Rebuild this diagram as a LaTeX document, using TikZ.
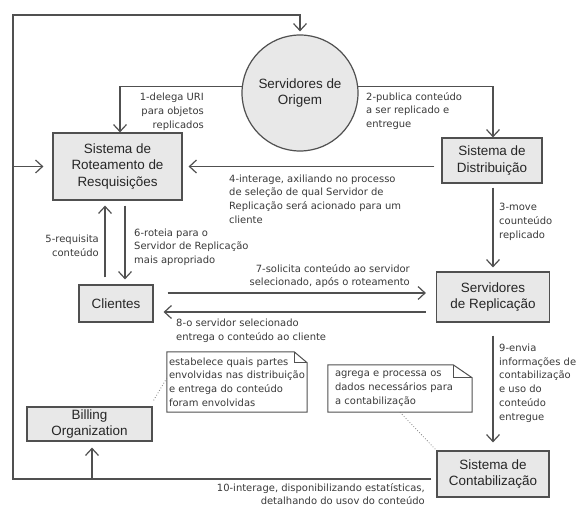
\documentclass[tikz,border=0pt]{standalone}
\usepackage{fontspec}
\setmainfont{Liberation Sans}
\newfontfamily\lblfont{DejaVu Sans}
\usetikzlibrary{arrows.meta}
\definecolor{linegray}{HTML}{505050}
\definecolor{boxfill}{HTML}{E8E8E8}
\definecolor{txtgray}{HTML}{3A3A3A}

% note outline with a folded corner: node, fold width, fold height
\newcommand{\dogear}[3]{%
  \draw[noteline] (#1.south west) -- (#1.north west) -- ([xshift=-#2]#1.north east)
    -- ([yshift=-#3]#1.north east) -- (#1.south east) -- cycle;
  \draw[noteline] ([xshift=-#2]#1.north east) |- ([yshift=-#3]#1.north east);}

\begin{document}
\begin{tikzpicture}[x=1bp,y=-1bp,
    box/.style={draw=linegray,line width=1.2bp,fill=boxfill,align=center,inner sep=0pt,
      font=\fontsize{13.5}{16.5}\selectfont,text=black!85},
    flow/.style={draw=linegray,line width=1.2bp,-{Straight Barb[length=7bp,width=13bp]}},
    lbl/.style={font=\lblfont\fontsize{10}{13.8}\selectfont,text=txtgray,inner sep=0pt},
    notebox/.style={lbl,fill=white,align=left,inner ysep=0pt,
      execute at begin node={\hyphenpenalty=10000\exhyphenpenalty=10000}},
    noteline/.style={draw=linegray,line width=1bp},
    hint/.style={draw=gray,line width=0.8bp,dotted}]
    \useasboundingbox[fill=white] (0,0) rectangle (581,507);

    % Draw the boxes
    \node[box,circle,minimum size=116bp] (orig) at (300,93) {Servidores de\\Origem};
    \node[box,minimum width=129bp,minimum height=67bp] (rot) at (117.5,166.5) {Sistema de\\Roteamento de\\Resquisições};
    \node[box,minimum width=100bp,minimum height=45bp] (dist) at (492,160.5) {Sistema de\\Distribuição};
    \node[box,minimum width=113bp,minimum height=50bp] (rep) at (493,297) {Servidores\\de Replicação};
    \node[box,minimum width=74bp,minimum height=37bp] (cli) at (116,303.5) {Clientes};
    \node[box,minimum width=125bp,minimum height=34bp] (bill) at (89.5,424) {Billing\\Organization};
    \node[box,minimum width=112bp,minimum height=46bp] (cont) at (493,474) {Sistema de\\Contabilização};

    % Draw the notes
    \node[notebox,text width=136bp,inner xsep=2bp,minimum height=60bp] (estab) at (237,382)
      {estabelece quais partes\\envolvidas nas distribuição\\e entrega do conteúdo\\foram envolvidas};
    \dogear{estab}{13bp}{11bp}
    \node[notebox,text width=130bp,inner xsep=7bp,minimum height=47bp] (agrega) at (400,388.5)
      {agrega e processa os\\dados necessários para\\a contabilização};
    \dogear{agrega}{19bp}{13bp}
    \draw[hint] ([yshift=4bp]estab.west) -- ([xshift=1bp,yshift=6bp]bill.north east);
    \draw[hint] (agrega.south) -- (cont.north west);

    % Draw the corners of the outer loop
    \coordinate (loopTL) at (13,15);
    \coordinate (loopBL) at (13,479);
    \coordinate (billIn) at ([xshift=2.5bp]bill.south);

    % Draw the connectors
    \draw[flow] (orig.174) -| ([xshift=2.5bp]rot.north);
    \draw[flow] (orig.6) -| ([xshift=1bp]dist.north);
    \draw[flow,shorten <=4bp,shorten >=4bp] ([xshift=1bp]dist.south) -- (rep.north);
    \draw[flow,shorten <=7bp,shorten >=6bp] ([yshift=-6bp]dist.west) -- ([yshift=-6bp]dist.west -| rot.east);
    \draw[flow,shorten <=7bp,shorten >=5bp] ([xshift=-11bp]cli.north) -- ([xshift=-11bp]cli.north |- rot.south);
    \draw[flow,shorten <=5bp,shorten >=5bp] ([xshift=9bp]cli.north |- rot.south) -- ([xshift=9bp]cli.north);
    \draw[flow,shorten <=14bp,shorten >=10bp] ([yshift=10.5bp]cli.east) -- ([yshift=10.5bp]cli.east -| rep.west);
    \draw[flow,shorten <=10bp,shorten >=10bp] ([yshift=-8.5bp]cli.east -| rep.west) -- ([yshift=-8.5bp]cli.east);
    \draw[flow,shorten <=13bp,shorten >=8bp] (rep.south) -- (cont.north);
    \draw[flow,shorten <=5bp,shorten >=3bp] ([yshift=-5bp]cont.west) -| (loopTL) -| (orig.north);
    \draw[flow,shorten >=9bp] (loopTL |- rot.west) -- (rot.west);
    \draw[flow,shorten >=6bp] (loopBL -| billIn) -- (billIn);

    % Draw the labels
    \node[lbl,align=right,anchor=east] (l1) at (204,112) {1-delega URI\\para objetos\\replicados};
    \node[lbl,align=left,anchor=west] (l2) at (366,111) {2-publica conteúdo\\a ser replicado e\\entregue};
    \node[lbl,align=left,anchor=west] (l3) at (499,222) {3-move\\counteúdo\\replicado};
    \node[lbl,align=left,anchor=west] (l4) at (229,199) {4-interage, axiliando no processo\\de seleção de qual Servidor de\\Replicação será acionado para um\\cliente};
    \node[lbl,align=right,anchor=east] (l5) at (99,246) {5-requisita\\conteúdo};
    \node[lbl,align=left,anchor=west] (l6) at (134,247) {6-roteia para o\\Servidor de Replicação\\mais apropriado};
    \node[lbl,align=right,anchor=east] (l7) at (410,276) {7-solicita conteúdo ao servidor\\selecionado, após o roteamento};
    \node[lbl,align=left,anchor=west] (l8) at (176,331) {8-o servidor selecionado\\entrega o conteúdo ao cliente};
    \node[lbl,align=left,anchor=west] (l9) at (499,383) {9-envia\\informações de\\contabilização\\e uso do\\conteúdo\\entregue};
    \node[lbl,align=right,anchor=east] (l10) at (425,494) {10-interage, disponibilizando estatísticas,\\detalhando do usov do conteúdo};
\end{tikzpicture}
\end{document}
